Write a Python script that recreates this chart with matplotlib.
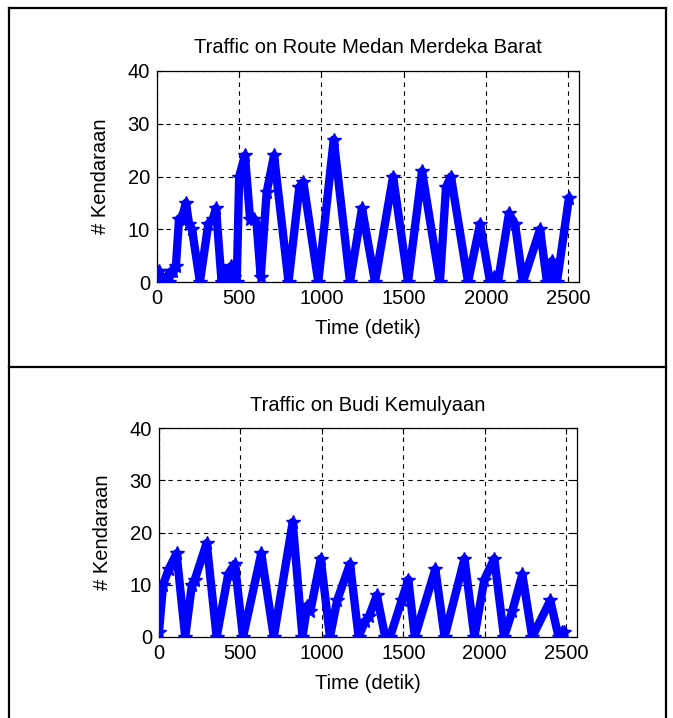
import matplotlib
matplotlib.use("Agg")
import matplotlib.pyplot as plt
from matplotlib.lines import Line2D

plt.rcParams['font.family'] = ['Liberation Sans', 'DejaVu Sans']

# ---- data (vertices) ----
title_top = "Traffic on Route Medan Merdeka Barat"
t_top = [0, 15, 35, 55, 70, 85, 100, 115, 134, 150, 176, 195, 213, 261,
         312, 340, 359, 393, 410, 430, 450, 470, 485, 500, 535, 566, 590,
         606, 631, 667, 712, 800, 866, 890, 981, 1075, 1174, 1247, 1326,
         1436, 1527, 1612, 1721, 1758, 1788, 1892, 1965, 2026, 2050, 2074,
         2141, 2178, 2226, 2330, 2372, 2403, 2433, 2506]
n_top = [1, 2, 0, 1, 0, 2, 2, 3, 12, 12, 15, 11, 10, 0,
         11, 12, 14, 0, 2, 1, 3, 1, 0, 20, 24, 12, 12,
         11, 1, 17, 24, 0, 18, 19, 0, 27, 0, 14, 0,
         20, 0, 21, 0, 18, 20, 0, 11, 0, 1, 0,
         13, 11, 0, 10, 0, 4, 0, 16]

title_bot = "Traffic on Budi Kemulyaan"
t_bot = [0, 25, 60, 108, 161, 202, 220, 293, 354, 425, 466, 516, 628,
         705, 821, 881, 910, 930, 993, 1050, 1094, 1173, 1226, 1265, 1290,
         1338, 1389, 1419, 1490, 1531, 1571, 1697, 1754, 1876, 1937, 1998,
         2059, 2119, 2170, 2231, 2292, 2403, 2454, 2475, 2490]
n_bot = [1, 10, 13, 16, 0, 10, 11, 18, 0, 12, 14, 0, 16,
         0, 22, 0, 6, 5, 15, 0, 7, 14, 0, 3, 4,
         8, 0, 0, 7, 11, 0, 13, 0, 15, 0, 11,
         15, 0, 5, 12, 0, 7, 0, 1, 1]

x_ticks = [0, 500, 1000, 1500, 2000, 2500]
y_ticks = [0, 10, 20, 30, 40]
x_label = "Time (detik)"
y_label = "# Kendaraan"

W, H = 673, 718
fig = plt.figure(figsize=(W / 100, H / 100), dpi=100)
fig.patch.set_facecolor('white')

def fx(px):
    return px / W

def fy(py):
    return 1 - py / H

# table-like borders
for (x0, y0, x1, y1) in [(9, 8, 666, 8), (9, 367, 666, 367),
                         (9, 8, 9, 718), (666, 8, 666, 718)]:
    fig.add_artist(Line2D([fx(x0), fx(x1)], [fy(y0), fy(y1)],
                          color='black', lw=1.6, transform=fig.transFigure))

fs = 14.5

def make_axes(rect, t, n, title, tpad):
    ax = fig.add_axes(rect)
    ax.plot(t, n, '-', color='#0000ff', lw=6, marker='*', ms=10,
            solid_joinstyle='round', solid_capstyle='round', zorder=3)
    ax.set_xlim(0, 2567)
    ax.set_ylim(0, 40)
    ax.set_xticks(x_ticks)
    ax.set_yticks(y_ticks)
    ax.grid(True, color='black', linestyle=(0, (4, 4)), linewidth=0.8)
    ax.tick_params(direction='in', top=True, right=True, length=4,
                   labelsize=fs, colors='black', pad=5)
    for s in ax.spines.values():
        s.set_linewidth(0.9)
        s.set_color('black')
    ax.set_title(title, fontsize=fs, pad=tpad)
    ax.set_xlabel(x_label, fontsize=fs, labelpad=8)
    ax.set_ylabel(y_label, fontsize=fs, labelpad=13)
    ax.set_axisbelow(True)
    return ax

make_axes([fx(157), fy(282), fx(579) - fx(157), fy(71) - fy(282)],
          t_top, n_top, title_top, 13)
make_axes([fx(159), fy(637), fx(577) - fx(159), fy(428) - fy(637)],
          t_bot, n_bot, title_bot, 12)

fig.savefig("out.png", dpi=100)
